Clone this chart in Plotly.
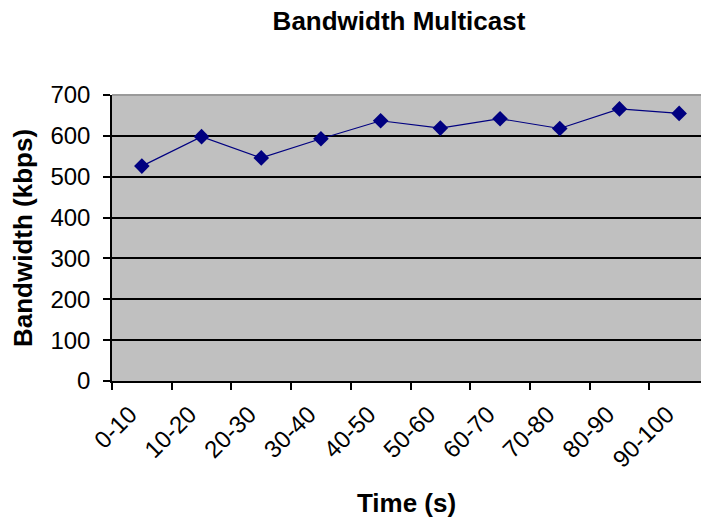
import plotly.graph_objects as go

# Multicast bandwidth measured over 10-second windows
time_windows = ["0-10", "10-20", "20-30", "30-40", "40-50",
                "50-60", "60-70", "70-80", "80-90", "90-100"]
bandwidth_kbps = [526, 598, 546, 593, 637, 619, 642, 618, 666, 655]
y_ticks = [0, 100, 200, 300, 400, 500, 600, 700]

navy = "#000080"
font_family = "Liberation Sans, Arial, sans-serif"

fig = go.Figure()
fig.add_trace(go.Scatter(
    x=time_windows,
    y=bandwidth_kbps,
    mode="lines+markers",
    line=dict(color=navy, width=1.2),
    marker=dict(symbol="diamond", size=12, color=navy),
    showlegend=False,
))

fig.update_layout(
    width=701,
    height=522,
    margin=dict(l=112, r=0, t=95, b=141),
    paper_bgcolor="white",
    plot_bgcolor="#C0C0C0",
    font=dict(family=font_family, color="black", size=24),
    title=dict(
        text="<b>Bandwidth Multicast</b>",
        x=399 / 701, xref="container", xanchor="center",
        y=1 - 21 / 522, yref="container", yanchor="middle",
        font=dict(size=26, color="black"),
    ),
)

fig.update_xaxes(
    type="category",
    range=[-0.5, 9.366],
    tickson="boundaries",
    ticks="outside",
    ticklen=7,
    tickwidth=1.5,
    tickcolor="black",
    tickangle=-45,
    tickfont=dict(size=24),
    ticklabelshift=-12,
    ticklabelstandoff=8,
    showline=True,
    linecolor="black",
    linewidth=1.5,
    showgrid=False,
    title=dict(text="<b>Time (s)</b>", font=dict(size=26), standoff=22),
)

fig.update_yaxes(
    range=[0, 700],
    tickvals=y_ticks,
    ticks="outside",
    ticklen=7,
    tickwidth=1.5,
    tickcolor="black",
    tickfont=dict(size=24),
    ticklabelstandoff=8,
    showline=True,
    linecolor="black",
    linewidth=1.5,
    showgrid=True,
    gridcolor="black",
    gridwidth=1.5,
    zeroline=False,
    title=dict(text="<b>Bandwidth (kbps)</b>", font=dict(size=26), standoff=10),
)

# light border along the top of the plot area
fig.add_shape(
    type="line", xref="x domain", yref="y domain",
    x0=0, x1=1, y0=1, y1=1,
    line=dict(color="#9A9A9A", width=2),
    layer="above",
)

fig.write_html("out.html")
